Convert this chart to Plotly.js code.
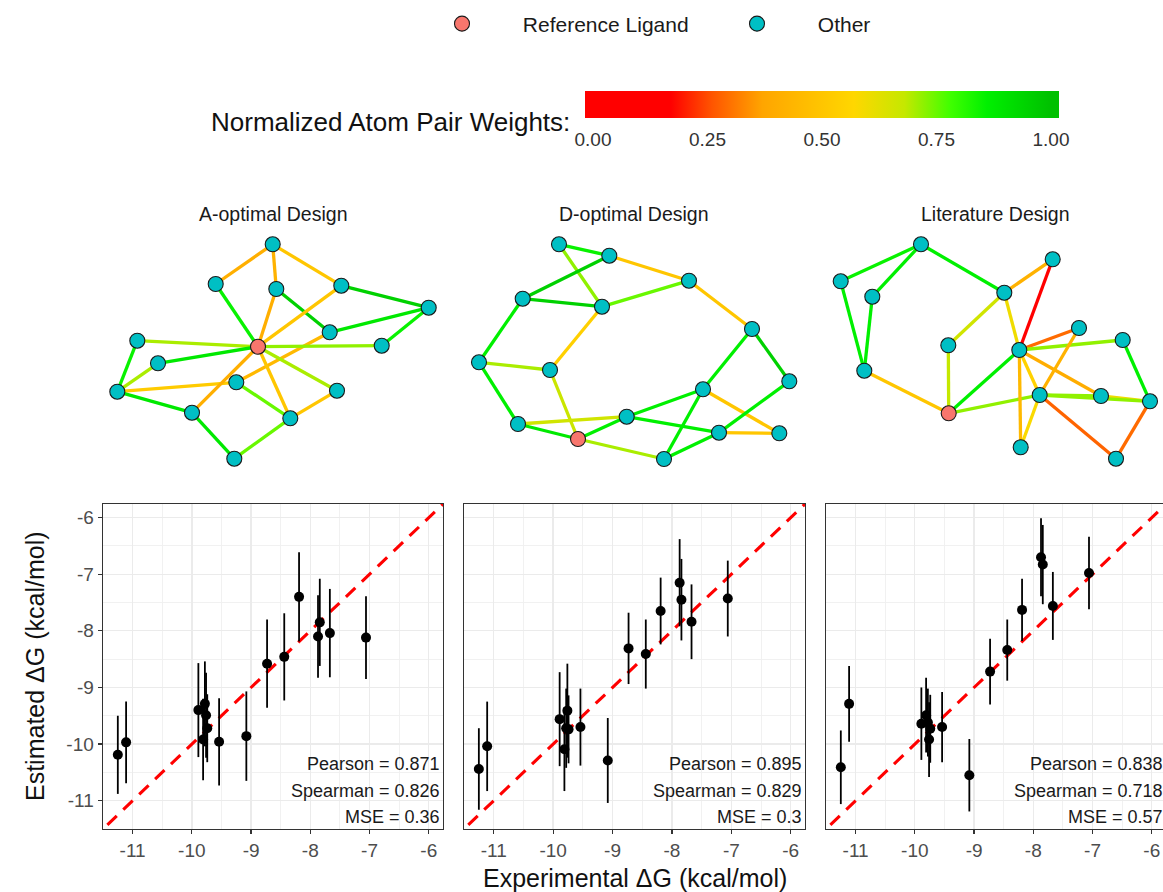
<!DOCTYPE html>
<html>
<head>
<meta charset="utf-8">
<script src="https://cdn.plot.ly/plotly-3.0.1.min.js"></script>
<style>html,body{margin:0;padding:0;overflow:hidden;background:#fff;}#chart{width:1170px;height:892px;}</style>
</head>
<body>
<div id="chart"></div>
<script>
// ---------------- DATA ----------------
const panelTitles = ["A-optimal Design", "D-optimal Design", "Literature Design"];
const expDG = [-11.25, -11.11, -9.89, -9.81, -9.78, -9.76, -9.74, -9.54, -9.08, -8.73, -8.44, -8.19, -7.87, -7.84, -7.67, -7.06];
const estA  = [-10.19, -9.97, -9.40, -9.92, -9.29, -9.49, -9.72, -9.96, -9.86, -8.58, -8.46, -7.40, -8.10, -7.85, -8.04, -8.12];
const errA  = [0.69, 0.72, 0.83, 0.72, 0.75, 0.75, 0.60, 0.77, 0.79, 0.78, 0.77, 0.79, 0.73, 0.77, 0.78, 0.73];
const estD  = [-10.44, -10.04, -9.56, -10.09, -9.72, -9.41, -9.74, -9.70, -10.29, -8.31, -8.41, -7.65, -7.15, -7.45, -7.84, -7.43];
const errD  = [0.72, 0.79, 0.83, 0.74, 0.70, 0.83, 0.60, 0.68, 0.75, 0.63, 0.61, 0.59, 0.77, 0.72, 0.66, 0.67];
const estL  = [-10.41, -9.29, -9.64, -9.49, -9.62, -9.92, -9.73, -9.70, -10.55, -8.72, -8.34, -7.63, -6.70, -6.83, -7.56, -6.98];
const errL  = [0.65, 0.67, 0.64, 0.66, 0.60, 0.66, 0.60, 0.62, 0.64, 0.58, 0.54, 0.55, 0.69, 0.70, 0.60, 0.64];
const statsA = ["Pearson = 0.871", "Spearman = 0.826", "MSE = 0.36"];
const statsD = ["Pearson = 0.895", "Spearman = 0.829", "MSE = 0.3"];
const statsL = ["Pearson = 0.838", "Spearman = 0.718", "MSE = 0.57"];
const axisTicks = [-11, -10, -9, -8, -7, -6];
const minorTicks = [-11.5, -10.5, -9.5, -8.5, -7.5, -6.5];
const axisRange = [-11.5, -5.76];

// network layouts (node positions in layout space) and weighted edges
const netA_x = [272.7,215.7,276.3,341.3,428.7,329.7,137.3,258,381.7,158,236.3,117.3,337,192,290.3,234.3];
const netA_y = [244.3,284,289,285.7,307.7,332.3,340.7,346.7,345.7,363.3,382.3,391.7,390.7,412.7,418.3,458.7];
const netA_ref = 7;
const netA_from = [0,0,0,1,2,2,3,3,5,5,4,6,7,9,6,9,11,11,7,7,7,10,14,13,15];
const netA_to   = [1,2,3,7,7,5,4,7,4,10,8,7,8,7,11,11,10,13,13,14,12,14,12,15,14];
const netA_w    = [.41,.42,.5,.85,.41,.95,.95,.5,.88,.45,.85,.7,.72,.88,.85,.7,.52,.88,.41,.5,.7,.75,.5,.88,.75];

const netD_x = [559,609.3,689,522.7,602,752,479,550,789.3,703,626.7,518,719,779.3,578,664];
const netD_y = [244.3,255.7,280.7,298.7,306.7,329,362.3,370,381.3,389.3,416.7,424,432.7,433.3,439,459];
const netD_ref = 14;
const netD_from = [0,0,1,1,2,2,3,3,4,6,6,7,5,5,9,9,9,8,11,11,14,14,10,12,15];
const netD_to   = [1,4,3,2,4,5,4,6,7,7,11,14,8,9,10,13,15,12,10,14,10,15,12,13,12];
const netD_w    = [.85,.72,.95,.5,.75,.5,.95,.86,.54,.7,.86,.67,.95,.86,.86,.5,.86,.86,.66,.88,.86,.7,.86,.5,.86];

const netL_x = [921,1052.7,840.7,872.3,1004.3,1079,948.3,1122.7,1019.3,864.3,1039.7,1101,1150,948.7,1020.7,1116];
const netL_y = [244.3,259.3,281.3,296.7,292.7,328,345.3,340,350,370.7,395,396,401.3,413.3,447.3,458.7];
const netL_ref = 13;
const netL_from = [0,0,0,2,3,4,1,4,4,6,9,13,13,8,8,8,8,8,5,10,10,11,10,7,12,10];
const netL_to   = [2,3,4,9,9,1,8,8,6,13,13,8,10,5,7,11,10,14,10,14,11,12,12,12,15,15];
const netL_w    = [.85,.86,.86,.86,.86,.42,.03,.6,.66,.68,.5,.86,.72,.29,.72,.4,.55,.45,.42,.58,.72,.6,.72,.86,.29,.28];

const legendNames = ["Reference Ligand", "Other"];
const cbTitle = "Normalized Atom Pair Weights:";
const cbTicks = [0, 0.25, 0.5, 0.75, 1];
const cbTickText = ["0.00", "0.25", "0.50", "0.75", "1.00"];

// ---------------- STYLE / GEOMETRY ----------------
const W = 1170, H = 892;
const FONT = "Liberation Sans, Arial, Helvetica, sans-serif";
const dx = (a, b) => [a / W, b / W];
const dy = (top, bottom) => [1 - bottom / H, 1 - top / H];
const panelX = [[103, 443], [464, 805], [826, 1166]];
const panelY = [504, 829];
const netY = [230, 475];

const weightStops = [[0,'#FF0000'],[0.17,'#FF0000'],[0.26,'#FF5500'],[0.37,'#FFA500'],[0.57,'#FFD700'],[0.68,'#C5E800'],[0.78,'#40FF00'],[0.86,'#00F000'],[1,'#00C000']];
const cmin = -0.0175, cmax = 1.0175;

function hexToRgb(h){return [parseInt(h.slice(1,3),16),parseInt(h.slice(3,5),16),parseInt(h.slice(5,7),16)];}
function weightColor(w){
  for (let i = 1; i < weightStops.length; i++) {
    if (w <= weightStops[i][0]) {
      const [a, ca] = weightStops[i-1], [b, cb] = weightStops[i];
      const t = (w - a) / (b - a);
      const A = hexToRgb(ca), B = hexToRgb(cb);
      const c = A.map((v, k) => Math.round(v + (B[k] - v) * t));
      return 'rgb(' + c.join(',') + ')';
    }
  }
  return weightStops[weightStops.length-1][1];
}
const colorscale = [[0, weightStops[0][1]]]
  .concat(weightStops.map(s => [(s[0] - cmin) / (cmax - cmin), s[1]]))
  .concat([[1, weightStops[weightStops.length-1][1]]]);

const traces = [];
const layout = {
  width: W, height: H,
  margin: {l: 0, r: 0, t: 0, b: 0},
  paper_bgcolor: '#ffffff',
  plot_bgcolor: 'rgba(0,0,0,0)',
  font: {family: FONT, color: '#1a1a1a'},
  showlegend: true,
  legend: {
    orientation: 'h', x: 442 / W, xanchor: 'left', y: 1 - 24 / H, yanchor: 'middle',
    font: {size: 21, color: '#1a1a1a', family: FONT},
    entrywidth: 250, entrywidthmode: 'pixels', itemsizing: 'trace',
    bgcolor: 'rgba(0,0,0,0)', borderwidth: 0
  },
  annotations: [],
  shapes: []
};

// ---------------- SCATTER PANELS ----------------
const ests = [estA, estD, estL], errs = [errA, errD, errL], stats = [statsA, statsD, statsL];
for (let p = 0; p < 3; p++) {
  const sx = p === 0 ? '' : String(p + 1);
  const xa = 'x' + sx, ya = 'y' + sx;
  const common = {
    range: axisRange, tickmode: 'array', tickvals: axisTicks, ticktext: axisTicks.map(String),
    ticklen: 4, tickwidth: 1.2, tickcolor: '#333333',
    tickfont: {size: 19, color: '#4D4D4D', family: FONT},
    showline: true, mirror: true, linecolor: '#333333', linewidth: 1.4,
    showgrid: true, gridcolor: '#EBEBEB', gridwidth: 1.3, zeroline: false,
    minor: {tickmode: 'array', tickvals: minorTicks, showgrid: true, gridcolor: '#EFEFEF', gridwidth: 0.9, ticks: ''}
  };
  layout['xaxis' + sx] = Object.assign({}, common, {domain: dx(panelX[p][0], panelX[p][1]), anchor: ya, ticks: 'outside'});
  layout['yaxis' + sx] = Object.assign({}, common, {domain: dy(panelY[0], panelY[1]), anchor: xa,
    ticks: p === 0 ? 'outside' : '', showticklabels: p === 0});
  // identity line y = x across the axis range
  traces.push({
    type: 'scatter', mode: 'lines', xaxis: xa, yaxis: ya,
    x: [axisRange[0] - 1, axisRange[1] + 1], y: [axisRange[0] - 1, axisRange[1] + 1],
    line: {color: '#FF0000', width: 3.1, dash: '13px,9px'},
    showlegend: false, hoverinfo: 'skip'
  });
  traces.push({
    type: 'scatter', mode: 'markers', xaxis: xa, yaxis: ya,
    x: expDG, y: ests[p],
    error_y: {type: 'data', array: errs[p], visible: true, thickness: 1.8, width: 0, color: '#000000'},
    marker: {color: '#000000', size: 10},
    showlegend: false, hoverinfo: 'x+y'
  });
  const yc = [764, 790.5, 816.5];
  for (let k = 0; k < 3; k++) {
    layout.annotations.push({
      xref: 'paper', yref: 'paper', x: (panelX[p][1] - 1) / W, y: 1 - yc[k] / H,
      xanchor: 'right', yanchor: 'middle', showarrow: false,
      text: stats[p][k], font: {size: 18, color: '#1a1a1a', family: FONT}
    });
  }
}

// ---------------- NETWORKS ----------------
const nets = [
  {x: netA_x, y: netA_y, ref: netA_ref, from: netA_from, to: netA_to, w: netA_w},
  {x: netD_x, y: netD_y, ref: netD_ref, from: netD_from, to: netD_to, w: netD_w},
  {x: netL_x, y: netL_y, ref: netL_ref, from: netL_from, to: netL_to, w: netL_w}
];
for (let p = 0; p < 3; p++) {
  const n = nets[p];
  const sx = String(p + 4);
  const xa = 'x' + sx, ya = 'y' + sx;
  layout['xaxis' + sx] = {domain: dx(panelX[p][0], panelX[p][1]), anchor: ya, range: [panelX[p][0], panelX[p][1]], visible: false, fixedrange: true};
  layout['yaxis' + sx] = {domain: dy(netY[0], netY[1]), anchor: xa, range: [netY[1], netY[0]], visible: false, fixedrange: true};
  for (let e = 0; e < n.from.length; e++) {
    traces.push({
      type: 'scatter', mode: 'lines', xaxis: xa, yaxis: ya,
      x: [n.x[n.from[e]], n.x[n.to[e]]], y: [n.y[n.from[e]], n.y[n.to[e]]],
      line: {color: weightColor(n.w[e]), width: 3.3},
      showlegend: false, hoverinfo: 'skip'
    });
  }
  const otherIdx = n.x.map((v, i) => i).filter(i => i !== n.ref);
  traces.push({
    type: 'scatter', mode: 'markers', xaxis: xa, yaxis: ya,
    x: [n.x[n.ref]], y: [n.y[n.ref]],
    name: '\u00A0'.repeat(7) + legendNames[0], legendgroup: 'ref', showlegend: p === 0,
    marker: {color: '#F8766D', size: 15, line: {color: '#1a1a1a', width: 1.1}}
  });
  traces.push({
    type: 'scatter', mode: 'markers', xaxis: xa, yaxis: ya,
    x: otherIdx.map(i => n.x[i]), y: otherIdx.map(i => n.y[i]),
    name: '\u00A0'.repeat(7) + legendNames[1], legendgroup: 'other', showlegend: p === 0,
    marker: {color: '#00BFC4', size: 15, line: {color: '#1a1a1a', width: 1.1}}
  });
  layout.annotations.push({
    xref: 'paper', yref: 'paper', x: [273, 634, 995][p] / W, y: 1 - 214 / H,
    xanchor: 'center', yanchor: 'middle', showarrow: false,
    text: panelTitles[p], font: {size: 19.5, color: '#1a1a1a', family: FONT}
  });
}

// colour bar for edge weights
traces.push({
  type: 'scatter', mode: 'markers', xaxis: 'x4', yaxis: 'y4',
  x: [null], y: [null], showlegend: false, hoverinfo: 'skip',
  marker: {
    color: [0.5], cmin: cmin, cmax: cmax, colorscale: colorscale, showscale: true,
    colorbar: {
      orientation: 'h', x: (585 + 1059) / 2 / W, xanchor: 'center', y: 1 - 91 / H, yanchor: 'top',
      lenmode: 'pixels', len: 474, thicknessmode: 'pixels', thickness: 27,
      xpad: 0, ypad: 0, outlinewidth: 0,
      tickmode: 'array', tickvals: cbTicks, ticktext: cbTickText,
      ticks: 'outside', ticklen: 6, tickcolor: 'rgba(0,0,0,0)', tickwidth: 1,
      tickfont: {size: 19, color: '#333333', family: FONT}
    }
  }
});
layout.annotations.push({
  xref: 'paper', yref: 'paper', x: 572 / W, y: 1 - 122 / H, xanchor: 'right', yanchor: 'middle',
  showarrow: false, text: cbTitle, font: {size: 26, color: '#111111', family: FONT}
});
// axis titles
layout.annotations.push({
  xref: 'paper', yref: 'paper', x: 634.5 / W, y: 1 - 878 / H, xanchor: 'center', yanchor: 'middle',
  showarrow: false, text: 'Experimental \u0394G (kcal/mol)', font: {size: 25, color: '#111111', family: FONT}
});
layout.annotations.push({
  xref: 'paper', yref: 'paper', x: 35 / W, y: 1 - 666 / H, xanchor: 'center', yanchor: 'middle',
  showarrow: false, textangle: -90, text: 'Estimated \u0394G (kcal/mol)', font: {size: 25, color: '#111111', family: FONT}
});

Plotly.newPlot('chart', traces, layout, {displayModeBar: false, staticPlot: true});
</script>
</body>
</html>
